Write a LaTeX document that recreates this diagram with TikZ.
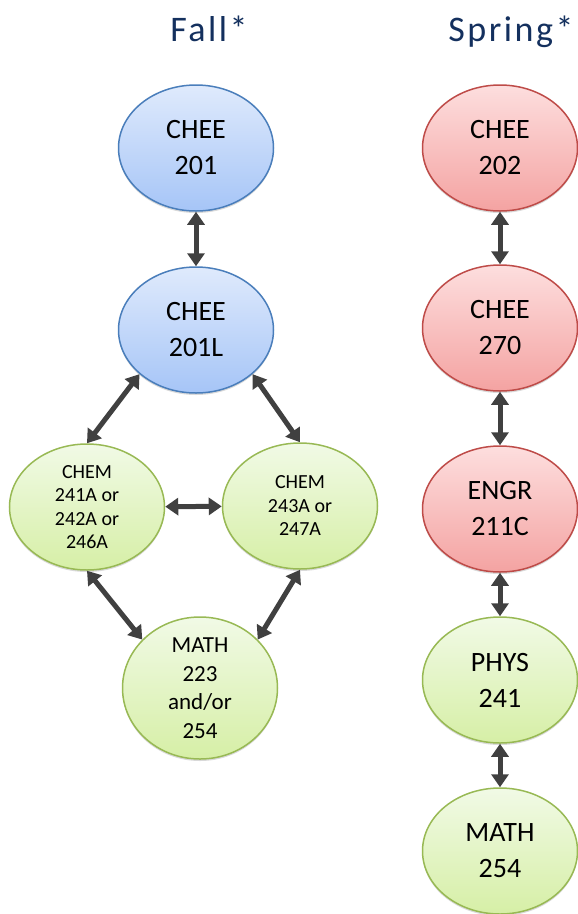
\documentclass[tikz,border=0pt]{standalone}
\usepackage{fontspec}
\setmainfont{Carlito}
\newfontfamily\titlefont[LetterSpace=7]{Carlito}
\usetikzlibrary{shapes.geometric,arrows.meta,shadows}
\definecolor{titleblue}{HTML}{14305E}
\definecolor{bluetop}{HTML}{DFEAFC}
\definecolor{bluebot}{HTML}{A6C5F7}
\definecolor{blueline}{HTML}{4A7EBB}
\definecolor{redtop}{HTML}{FDDEDE}
\definecolor{redbot}{HTML}{F4A3A2}
\definecolor{redline}{HTML}{BE4B48}
\definecolor{greentop}{HTML}{F1FAE6}
\definecolor{greenbot}{HTML}{D6EFA6}
\definecolor{greenline}{HTML}{98B954}
\definecolor{arrowgray}{HTML}{404040}
\tikzset{
  course/.style={ellipse, minimum width=155pt, minimum height=126pt, inner sep=0pt,
    line width=1.5pt, align=center, text=black,
    drop shadow={shadow xshift=0pt, shadow yshift=-2pt, opacity=0.25, fill=black!60}},
  bluenode/.style={course, draw=blueline, top color=bluetop, bottom color=bluebot, font=\fontsize{28}{36}\selectfont},
  rednode/.style={course, draw=redline, top color=redtop, bottom color=redbot, font=\fontsize{28}{36}\selectfont},
  greennode/.style={course, draw=greenline, top color=greentop, bottom color=greenbot, font=\fontsize{28}{36}\selectfont},
  smalltext/.style={font=\fontsize{20}{23.5}\selectfont},
  midtext/.style={font=\fontsize{23}{28.5}\selectfont},
  link/.style={arrowgray, line width=5pt,
    {Triangle[width=17pt,length=13pt]}-{Triangle[width=17pt,length=13pt]}},
  heading/.style={text=titleblue, font=\titlefont\fontsize{36}{40}\selectfont, anchor=base}
}
\begin{document}
\begin{tikzpicture}[x=1pt,y=-1pt]
\useasboundingbox (0,0) rectangle (578,914);
\node[heading] (fall) at (209,41) {Fall*};
\node[heading] (spring) at (511,41) {Spring*};

\node[bluenode] (c201) at (196,148) {CHEE\\201};
\node[bluenode] (c201l) at (196,330) {CHEE\\201L};
\node[greennode, smalltext] (chemA) at (87,507) {CHEM\\241A or\\242A or\\246A};
\node[greennode, smalltext] (chemB) at (300,506) {CHEM\\243A or\\247A};
\node[greennode, midtext] (math1) at (200,688) {MATH\\223\\and/or\\254};

\node[rednode] (c202) at (500,148) {CHEE\\202};
\node[rednode] (c270) at (500,328) {CHEE\\270};
\node[rednode] (engr) at (500,509) {ENGR\\211C};
\node[greennode] (phys) at (500,680) {PHYS\\241};
\node[greennode] (math2) at (500,851) {MATH\\254};

\draw[link] (c201) -- (c201l);
\draw[link] (c201l.218) -- (chemA.north);
\draw[link] (c201l.322) -- (chemB.north);
\draw[link] (chemA) -- (chemB);
\draw[link] (chemA.south) -- (math1.140);
\draw[link] (chemB.south) -- (math1.40);

\draw[link] (c202) -- (c270);
\draw[link] (c270) -- (engr);
\draw[link] (engr) -- (phys);
\draw[link] (phys) -- (math2);
\end{tikzpicture}
\end{document}
